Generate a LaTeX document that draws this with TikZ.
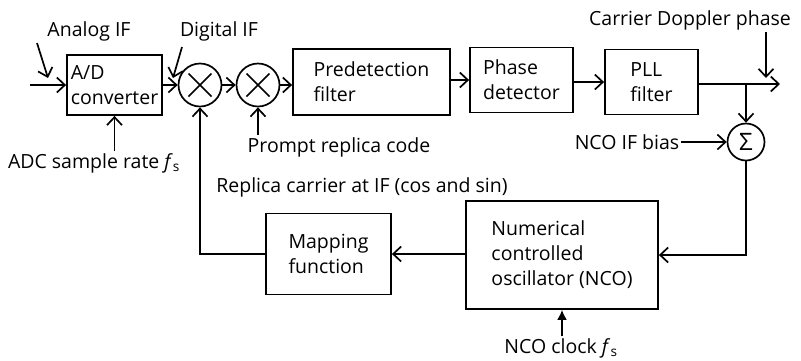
\documentclass[tikz,border=0pt]{standalone}
\usepackage{fontspec}
\setmainfont{Open Sans}
\usetikzlibrary{arrows.meta}

\tikzset{
  blk/.style={draw, line width=1.8pt, align=left, inner sep=0pt,
    font=\fontsize{19.5}{25}\selectfont},
  mixer/.style={draw, circle, line width=1.7pt, minimum size=43pt, inner sep=0pt,
    path picture={
      \draw[line width=1.7pt]
        ([shift={(-11.5pt,-11.5pt)}]path picture bounding box.center) --
        ([shift={(11.5pt,11.5pt)}]path picture bounding box.center)
        ([shift={(-11.5pt,11.5pt)}]path picture bounding box.center) --
        ([shift={(11.5pt,-11.5pt)}]path picture bounding box.center);}},
  summer/.style={draw, circle, line width=1.7pt, minimum size=37pt, inner sep=0pt,
    font=\fontsize{24}{24}\selectfont},
  lbl/.style={font=\fontsize{19.5}{25}\selectfont, inner sep=2pt},
  sig/.style={line width=1.7pt, -{Straight Barb[length=8pt,width=15pt,line width=1.7pt]}},
  wire/.style={line width=1.7pt}
}

\begin{document}
\begin{tikzpicture}[x=1pt, y=-1pt]
    \useasboundingbox (0,0) rectangle (801,360);

    % Blocks of the carrier loop
    \node[blk, minimum width=95pt, minimum height=60pt] (ad) at (114.5,85) {A/D\\converter};
    \node[mixer] (mixA) at (200,85) {};
    \node[mixer] (mixB) at (258,85) {};
    \node[blk, minimum width=157pt, minimum height=66pt] (pre) at (371.5,82) {Predetection\\filter};
    \node[blk, minimum width=103pt, minimum height=65pt] (ph) at (521.5,80) {Phase\\detector};
    \node[blk, minimum width=93pt, minimum height=65pt] (pll) at (651.5,82) {PLL\\filter};
    \node[summer] (sum) at (746,142) {Σ};
    \node[blk, minimum width=192pt, minimum height=108pt] (nco) at (562,255) {Numerical\\controlled\\oscillator (NCO)};
    \node[blk, minimum width=125pt, minimum height=81pt] (map) at (328.5,254) {Mapping\\function};

    % Text labels
    \node[lbl] (analog) at (89,31) {Analog IF};
    \node[lbl] (digital) at (219,31) {Digital IF};
    \node[lbl] (adc) at (94,163) {ADC sample rate \textit{f}\textsubscript{s}};
    \node[lbl] (prompt) at (339,147) {Prompt replica code};
    \node[lbl] (replica) at (362,187) {Replica carrier at IF (cos and sin)};
    \node[lbl] (doppler) at (690,20) {Carrier Doppler phase};
    \node[lbl] (bias) at (627,142) {NCO IF bias};
    \node[lbl] (clock) at (561,348) {NCO clock \textit{f}\textsubscript{s}};

    % Free ends
    \coordinate (in) at (30,85);
    \coordinate (out) at (780,84);
    \coordinate (tap) at (746,84);
    \coordinate (analogtail) at (37,43);
    \coordinate (analogtip) at (48,78);
    \coordinate (digitaltail) at (182,47);
    \coordinate (digitaltip) at (173,78);
    \coordinate (dopplertail) at (766,32);
    \coordinate (dopplertip) at (766,78);

    % Signal path
    \draw[sig] (in) -- (ad);
    \draw[sig] (ad) -- (mixA);
    \draw[sig] (mixA) -- (mixB);
    \draw[sig] (mixB) -- (pre.west |- mixB);
    \draw[sig] (pre.east |- ph) -- (ph);
    \draw[sig] (ph.east |- pll) -- (pll);
    \draw[sig] (pll.east |- out) -- (out);
    \draw[sig] (tap) -- (sum);
    \draw[sig] (bias) -- (sum);
    \draw[sig] (sum) |- (nco);
    \draw[sig] (nco.west |- map) -- (map);
    \draw[sig] (map) -| (mixA);

    % Pointers and side inputs
    \draw[sig] (analogtail) -- (analogtip);
    \draw[sig] (digitaltail) -- (digitaltip);
    \draw[sig] (dopplertail) -- (dopplertip);
    \draw[sig] (ad.south |- adc.north) -- (ad);
    \draw[sig] (mixB.south |- prompt.north) -- (mixB);
    \draw[line width=1.7pt, -{Latex[length=10pt,width=10pt]}] (clock.north -| nco) -- (nco);
\end{tikzpicture}
\end{document}
